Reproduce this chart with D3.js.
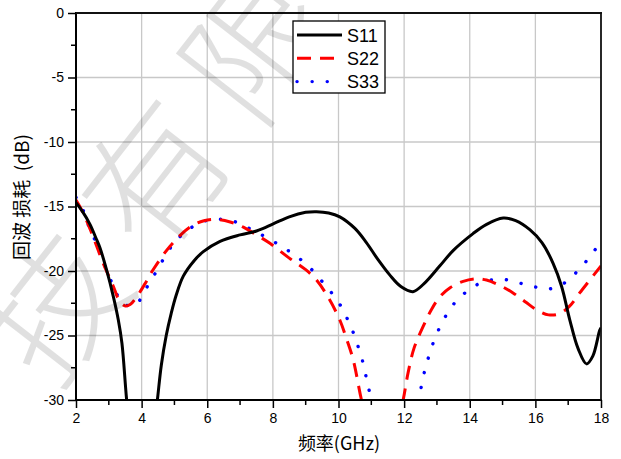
<!DOCTYPE html>
<html>
<head>
<meta charset="utf-8">
<script src="https://cdn.jsdelivr.net/npm/d3@7"></script>
<style>
  html, body { margin: 0; padding: 0; background: #fff; }
  svg { display: block; }
  text { font-family: "Liberation Sans", Arial, sans-serif; }
</style>
</head>
<body>
<svg id="chart" width="621" height="459"></svg>
<script>
// ---- data ----
const xTicks = [2, 4, 6, 8, 10, 12, 14, 16, 18];
const yTicks = [0, -5, -10, -15, -20, -25, -30];
const seriesNames = ["S11", "S22", "S33"];

const s11X = [2.0, 2.2, 2.43, 2.6, 2.73, 2.93, 3.14, 3.29, 3.4, 3.54, 3.7, 4.0, 4.3, 4.48, 4.6, 4.75, 4.9, 5.05, 5.27, 5.6, 5.88, 6.39, 7.0, 7.5, 8.01, 8.5, 9.0, 9.33, 9.7, 10.04, 10.5, 10.85, 11.2, 11.56, 11.9, 12.27, 12.6, 13.09, 13.5, 14.1, 14.5, 15.02, 15.4, 15.83, 16.2, 16.54, 16.8, 17.05, 17.3, 17.56, 17.75, 17.96, 18.0];
const s11Y = [-14.7, -15.4, -16.4, -17.4, -18.2, -19.9, -22.0, -23.8, -25.6, -29.9, -34, -37, -34, -30, -27.3, -25.0, -23.3, -21.9, -20.4, -19.2, -18.5, -17.7, -17.2, -16.9, -16.35, -15.8, -15.45, -15.4, -15.5, -15.8, -16.7, -17.8, -19.1, -20.3, -21.2, -21.6, -21.0, -19.6, -18.4, -17.1, -16.4, -15.9, -16.1, -16.8, -17.8, -19.4, -21.2, -23.8, -26.0, -27.2, -26.6, -24.6, -24.4];

const s22X = [2.0, 2.22, 2.5, 2.83, 3.14, 3.3, 3.49, 3.65, 3.85, 4.1, 4.35, 4.86, 5.47, 5.9, 6.28, 6.7, 7.1, 7.5, 7.91, 8.5, 9.0, 9.33, 9.7, 10.04, 10.25, 10.45, 10.7, 11.0, 11.35, 11.7, 11.97, 12.12, 12.3, 12.58, 12.83, 13.09, 13.4, 13.8, 14.2, 14.51, 14.9, 15.32, 15.7, 16.03, 16.4, 16.74, 17.05, 17.35, 17.66, 18.0];
const s22Y = [-14.5, -15.5, -17.2, -19.4, -21.2, -22.2, -22.7, -22.6, -22.0, -21.0, -19.9, -18.1, -16.6, -16.1, -16.0, -16.2, -16.6, -17.2, -17.85, -19.0, -19.9, -20.7, -22.1, -23.8, -25.3, -26.9, -30, -33, -34.5, -33, -30, -27.9, -26.0, -24.3, -23.0, -22.0, -21.3, -20.8, -20.6, -20.7, -21.1, -21.7, -22.4, -23.0, -23.4, -23.3, -22.7, -21.7, -20.7, -19.6];

const s33X = [2.0, 2.22, 2.40, 2.61, 2.76, 2.95, 3.14, 3.39, 3.6, 3.83, 4.15, 4.41, 4.66, 4.98, 5.37, 5.83, 6.23, 6.74, 7.2, 7.66, 8.11, 8.57, 9.03, 9.43, 9.79, 10.09, 10.32, 10.5, 10.65, 10.78, 10.87, 10.98, 11.3, 11.7, 12.1, 12.45, 12.55, 12.65, 12.78, 12.94, 13.14, 13.41, 13.68, 14.12, 14.56, 15.02, 15.47, 15.93, 16.39, 16.84, 17.27, 17.66, 18.0];
const s33Y = [-14.3, -15.3, -16.6, -17.8, -18.9, -20.0, -21.2, -22.4, -22.7, -22.6, -21.3, -20.2, -19.1, -17.85, -16.9, -16.2, -16.0, -16.1, -16.6, -17.2, -17.85, -18.6, -19.5, -20.6, -21.7, -22.8, -24.0, -25.1, -26.3, -27.4, -28.6, -29.7, -33, -34.5, -33, -29.9, -28.6, -27.5, -26.4, -25.2, -24.1, -22.9, -22.1, -21.2, -20.75, -20.65, -20.9, -21.2, -21.4, -21.0, -20.05, -18.9, -17.7];

const watermarkChars = ["技", "有", "限"];

// ---- layout ----
const svg = d3.select("#chart");
const L = 76, R = 601, T = 13, B = 400;
const x = d3.scaleLinear().domain([2, 18]).range([L, R]);
const y = d3.scaleLinear().domain([-30, 0]).range([B, T]);

// grid
const grid = svg.append("g");
grid.selectAll("line.gx").data(xTicks.slice(1, -1)).join("line")
  .attr("x1", d => x(d)).attr("x2", d => x(d)).attr("y1", T).attr("y2", B)
  .attr("stroke", "#c8c8c8").attr("stroke-width", 1.3);
grid.selectAll("line.gy").data(yTicks.slice(1, -1)).join("line")
  .attr("y1", d => y(d)).attr("y2", d => y(d)).attr("x1", L).attr("x2", R)
  .attr("stroke", "#c8c8c8").attr("stroke-width", 1.3);

// clip
svg.append("clipPath").attr("id", "clip").append("rect")
  .attr("x", L).attr("y", T).attr("width", R - L).attr("height", B - T);
svg.append("clipPath").attr("id", "clipAll").append("rect")
  .attr("x", 0).attr("y", 0).attr("width", 621).attr("height", 459);

const line = d3.line().x(d => x(d[0])).y(d => y(d[1])).curve(d3.curveCatmullRom.alpha(0.5));
const zip = (a, b) => a.map((v, i) => [v, b[i]]);

const styles = [
  { color: "#000000", dash: null, cap: "butt", w: 3 },
  { color: "#ff0000", dash: "14,9", cap: "butt", w: 3 },
  { color: "#0000ff", dash: "0.1,15", cap: "round", w: 3.4 }
];
const data = [zip(s11X, s11Y), zip(s22X, s22Y), zip(s33X, s33Y)];

const plot = svg.append("g").attr("clip-path", "url(#clip)");
[2, 1, 0].forEach(i => {
  plot.append("path").datum(data[i])
    .attr("d", line)
    .attr("fill", "none")
    .attr("stroke", styles[i].color)
    .attr("stroke-width", styles[i].w)
    .attr("stroke-linecap", styles[i].cap)
    .attr("stroke-linejoin", "round")
    .attr("stroke-dasharray", styles[i].dash);
});

// axes
const xAxis = d3.axisBottom(x).tickValues(xTicks).tickSize(8).tickPadding(5).tickFormat(d3.format("d"));
const yAxis = d3.axisLeft(y).tickValues(yTicks).tickSize(8).tickPadding(4).tickFormat(d => String(d));

const gx = svg.append("g").attr("transform", `translate(0,${B})`).call(xAxis);
const gy = svg.append("g").attr("transform", `translate(${L},0)`).call(yAxis);
[gx, gy].forEach(g => {
  g.select(".domain").remove();
  g.selectAll(".tick line").attr("stroke", "#000").attr("stroke-width", 1.5);
  g.selectAll(".tick text").attr("fill", "#000").attr("font-size", 14)
    .attr("font-family", "Liberation Sans, Arial, sans-serif");
});

// minor ticks
const minorX = d3.range(3, 18, 2);
const minorY = d3.range(-27.5, 0, 5);
svg.append("g").selectAll("line").data(minorX).join("line")
  .attr("x1", d => x(d)).attr("x2", d => x(d)).attr("y1", B).attr("y2", B + 5)
  .attr("stroke", "#000").attr("stroke-width", 1.5);
svg.append("g").selectAll("line").data(minorY).join("line")
  .attr("y1", d => y(d)).attr("y2", d => y(d)).attr("x1", L - 5).attr("x2", L)
  .attr("stroke", "#000").attr("stroke-width", 1.5);

// frame
svg.append("line").attr("x1", L).attr("x2", L).attr("y1", T - 1).attr("y2", B + 1).attr("stroke", "#000").attr("stroke-width", 2);
svg.append("line").attr("x1", L - 1).attr("x2", R + 1).attr("y1", B).attr("y2", B).attr("stroke", "#000").attr("stroke-width", 2);
svg.append("line").attr("x1", L).attr("x2", R + 1).attr("y1", T).attr("y2", T).attr("stroke", "#111").attr("stroke-width", 1.8);
svg.append("line").attr("x1", R).attr("x2", R).attr("y1", T).attr("y2", B).attr("stroke", "#111").attr("stroke-width", 1.8);

// titles
svg.append("text").attr("x", 339).attr("y", 450).attr("text-anchor", "middle")
  .attr("font-size", 18).attr("fill", "#000")
  .style("font-family", "'Noto Sans CJK SC', 'Liberation Sans', sans-serif")
  .text("频率(GHz)");
svg.append("text").attr("transform", "translate(29,197) rotate(-90)").attr("text-anchor", "middle")
  .attr("font-size", 19).attr("fill", "#000")
  .style("font-family", "'Noto Sans CJK SC', 'Liberation Sans', sans-serif")
  .style("white-space", "pre")
  .text("回波 损耗  (dB)");

// watermark
const ang = -52, step = 165, cx = 148, cy = 170;
const wm = svg.append("g").attr("pointer-events", "none").attr("clip-path", "url(#clipAll)");
watermarkChars.forEach((c, i) => {
  const k = i - 1;
  const px = cx + k * step * Math.cos(ang * Math.PI / 180);
  const py = cy + k * step * Math.sin(ang * Math.PI / 180);
  wm.append("text")
    .attr("transform", `translate(${px},${py}) rotate(${ang})`)
    .attr("text-anchor", "middle").attr("dominant-baseline", "central")
    .attr("font-size", 140).attr("font-weight", 300)
    .attr("fill", "#000").attr("fill-opacity", 0.12)
    .style("font-family", "'Noto Sans CJK SC', sans-serif")
    .text(c);
});

// legend
const lg = svg.append("g");
lg.append("rect").attr("x", 293).attr("y", 21).attr("width", 92).attr("height", 72)
  .attr("fill", "#fff").attr("stroke", "#000").attr("stroke-width", 1.3);
seriesNames.forEach((name, i) => {
  const ly = 35 + i * 23.3;
  lg.append("line").attr("x1", 297).attr("x2", 342).attr("y1", ly).attr("y2", ly)
    .attr("stroke", styles[i].color).attr("stroke-width", styles[i].w)
    .attr("stroke-linecap", styles[i].cap)
    .attr("stroke-dasharray", styles[i].dash);
  lg.append("text").attr("x", 347).attr("y", ly + 6.5).attr("font-size", 18).attr("fill", "#000").text(name);
});
</script>
</body>
</html>
